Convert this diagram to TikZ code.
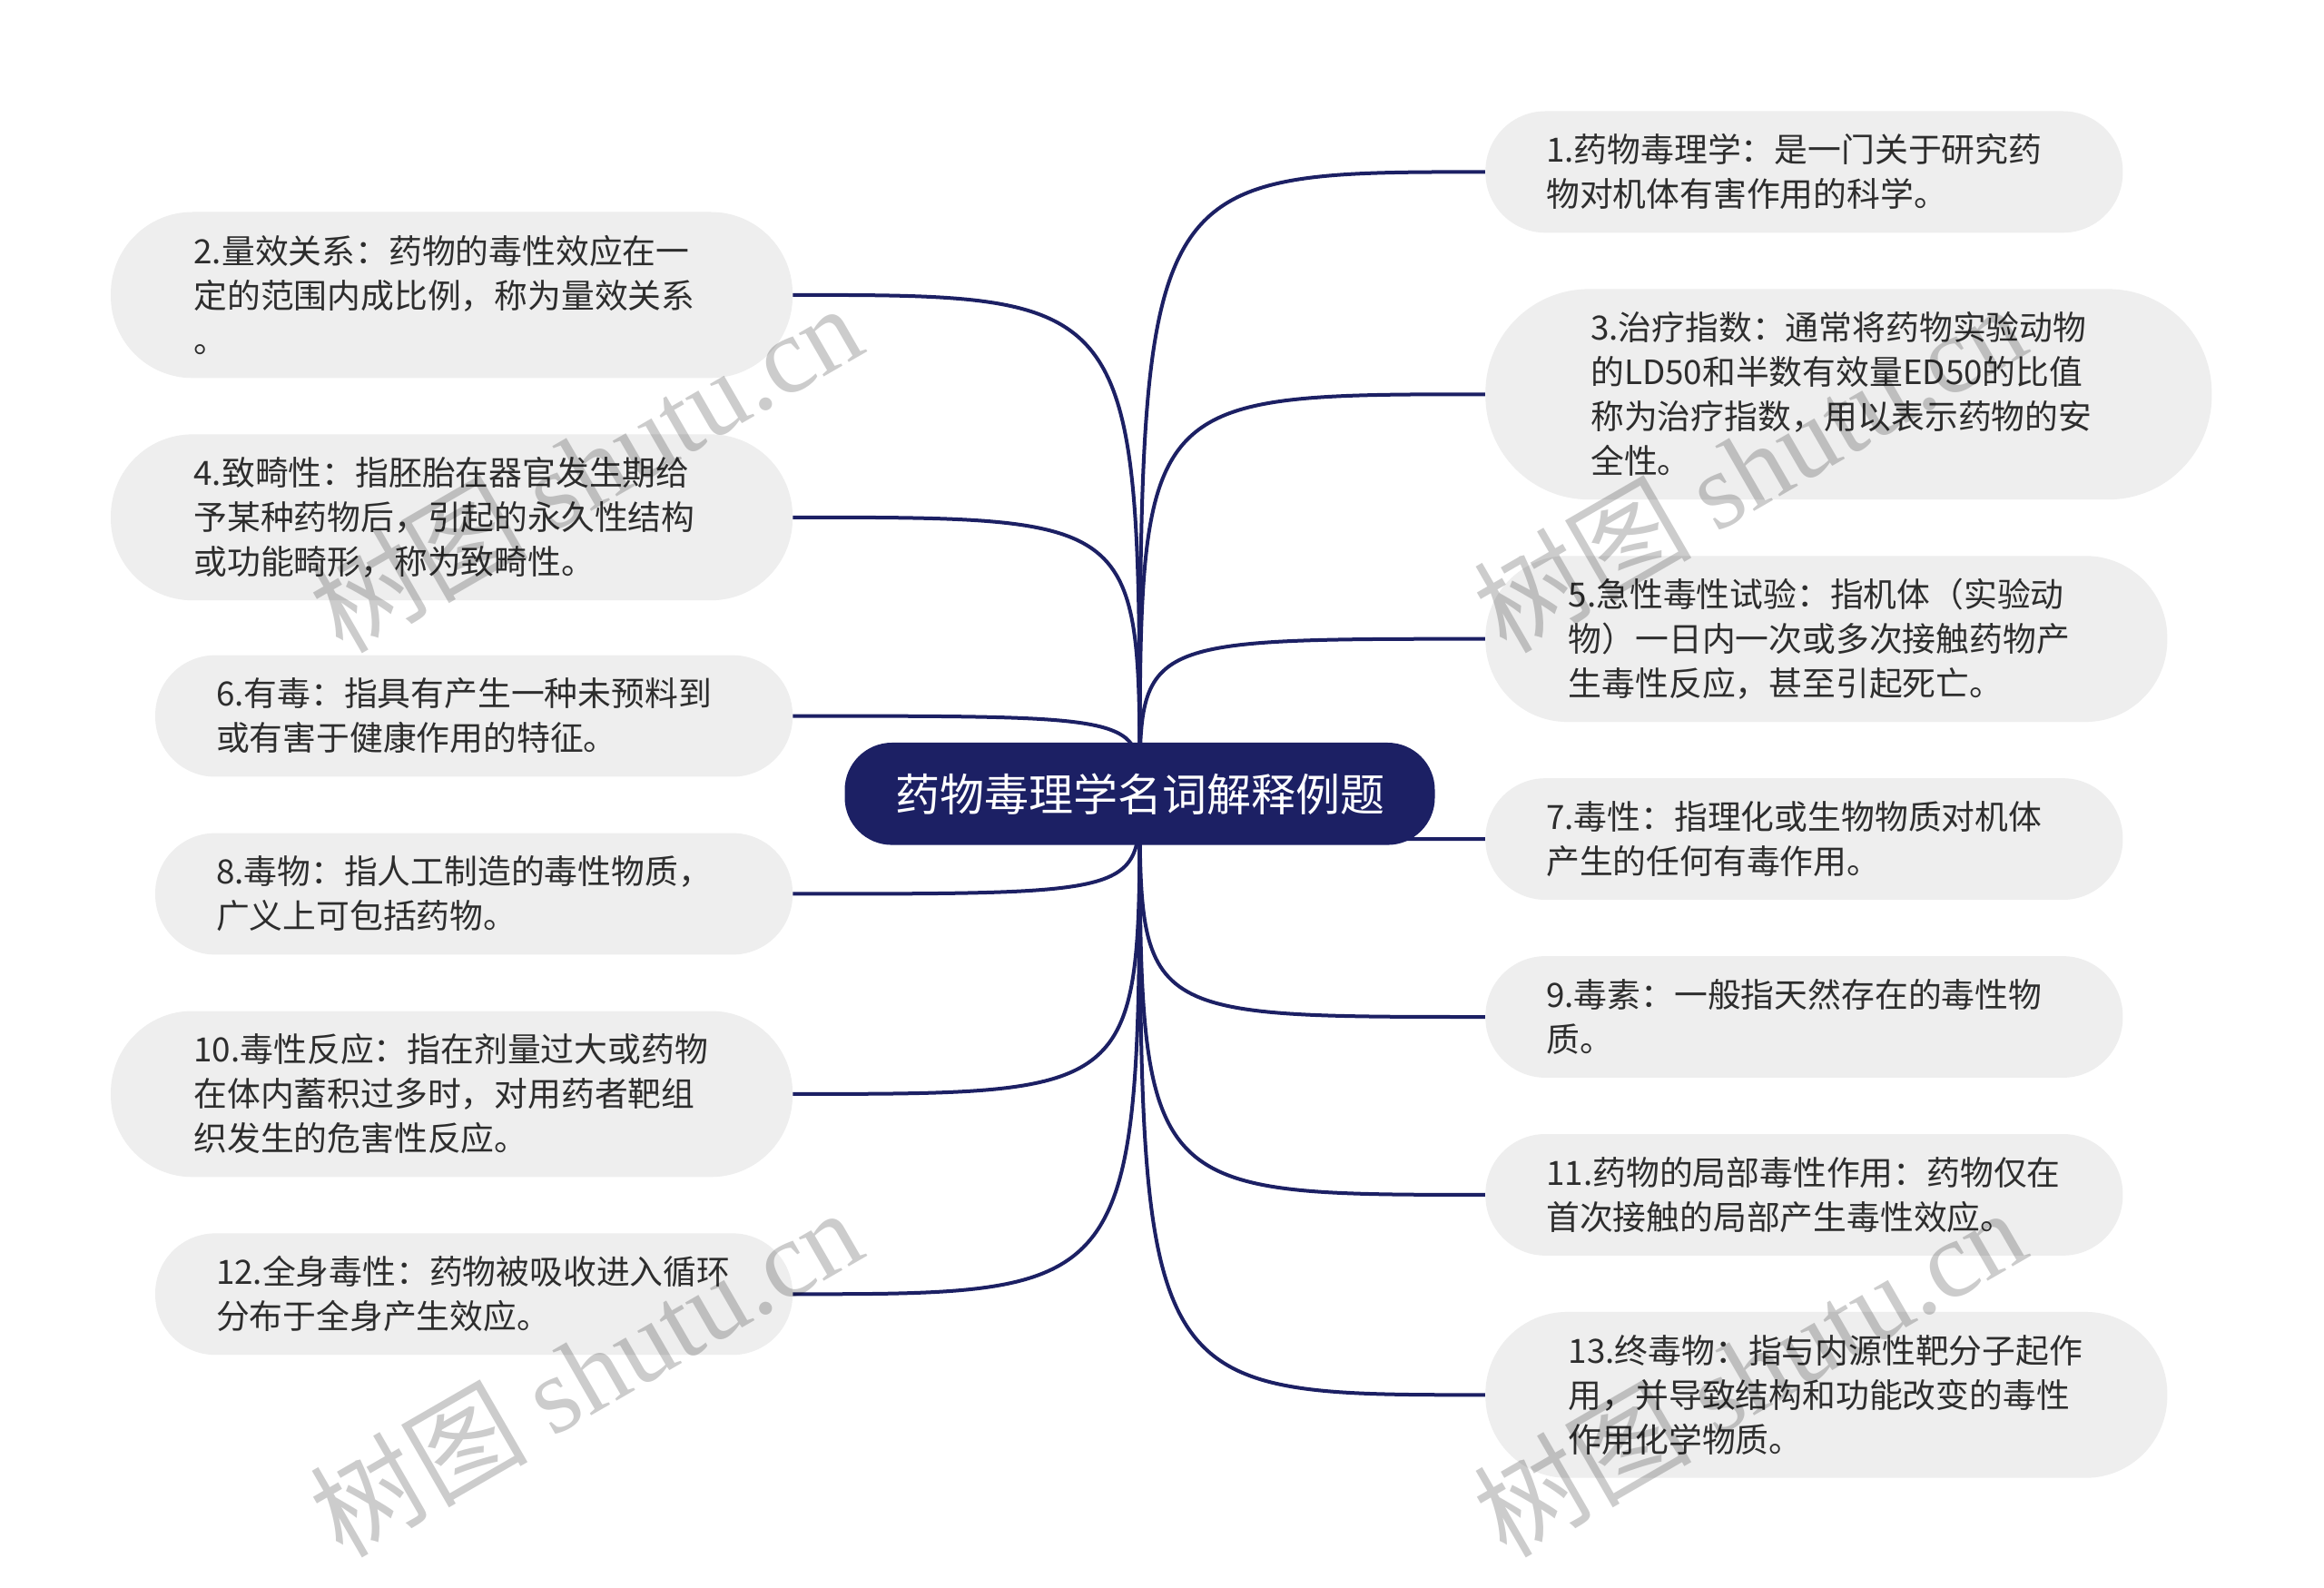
\documentclass[tikz,border=0pt]{standalone}
\usepackage{fontspec}
\setmainfont{Noto Sans CJK SC}
\newfontfamily\wmlatin{Liberation Serif}
\definecolor{navy}{RGB}{28,32,100}
\definecolor{boxgray}{RGB}{238,238,238}
\definecolor{txt}{RGB}{45,45,45}
\begin{document}
\begin{tikzpicture}[x=0.8163pt,y=-0.8163pt,
  conn/.style={draw=navy,line width=2pt},
  leaf/.style={fill=boxgray,text=txt,align=left,text width=284pt,inner ysep=0pt,
    font=\fontsize{18.4pt}{24.5pt}\selectfont},
  w430/.style={inner xsep=33.5pt},
  w460/.style={inner xsep=45.75pt},
  w490/.style={inner xsep=58pt},
  h2/.style={minimum height=66.9pt,rounded corners=33pt},
  h3/.style={minimum height=91.4pt,rounded corners=45pt},
  h4/.style={minimum height=115.9pt,rounded corners=57pt},
  rootbox/.style={fill=navy,text=white,minimum width=325pt,minimum height=56.3pt,
    rounded corners=26pt,inner sep=0pt,font=\fontsize{24.5pt}{28pt}\selectfont},
  wm/.style={rotate=30,text=black,text opacity=0.2,inner sep=0pt,
    font=\fontsize{60pt}{60pt}\selectfont}]
\path[fill=white] (0,0) rectangle (1568,1071);
\coordinate (rc) at (769,535.5);
% leaves right
\node[leaf,w430,h2,anchor=west] (n1) at (1002,116) {1.药物毒理学：是一门关于研究药\\物对机体有害作用的科学。};
\node[leaf,w490,h4,anchor=west] (n3) at (1002,266) {3.治疗指数：通常将药物实验动物\\的LD50和半数有效量ED50的比值\\称为治疗指数，用以表示药物的安\\全性。};
\node[leaf,w460,h3,anchor=west] (n5) at (1002,431) {5.急性毒性试验：指机体（实验动\\物）一日内一次或多次接触药物产\\生毒性反应，甚至引起死亡。};
\node[leaf,w430,h2,anchor=west] (n7) at (1002,566) {7.毒性：指理化或生物物质对机体\\产生的任何有毒作用。};
\node[leaf,w430,h2,anchor=west] (n9) at (1002,686) {9.毒素：一般指天然存在的毒性物\\质。};
\node[leaf,w430,h2,anchor=west] (n11) at (1002,806) {11.药物的局部毒性作用：药物仅在\\首次接触的局部产生毒性效应。};
\node[leaf,w460,h3,anchor=west] (n13) at (1002,941) {13.终毒物：指与内源性靶分子起作\\用，并导致结构和功能改变的毒性\\作用化学物质。};
% leaves left
\node[leaf,w460,h3,anchor=east] (n2) at (535,199) {2.量效关系：药物的毒性效应在一\\定的范围内成比例，称为量效关系\\。};
\node[leaf,w460,h3,anchor=east] (n4) at (535,349) {4.致畸性：指胚胎在器官发生期给\\予某种药物后，引起的永久性结构\\或功能畸形，称为致畸性。};
\node[leaf,w430,h2,anchor=east] (n6) at (535,483) {6.有毒：指具有产生一种未预料到\\或有害于健康作用的特征。};
\node[leaf,w430,h2,anchor=east] (n8) at (535,603) {8.毒物：指人工制造的毒性物质，\\广义上可包括药物。};
\node[leaf,w460,h3,anchor=east] (n10) at (535,738) {10.毒性反应：指在剂量过大或药物\\在体内蓄积过多时，对用药者靶组\\织发生的危害性反应。};
\node[leaf,w430,h2,anchor=east] (n12) at (535,873) {12.全身毒性：药物被吸收进入循环\\分布于全身产生效应。};
% connectors
\foreach \n in {n1,n3,n5,n7,n9,n11,n13}
  \draw[conn] (rc) .. controls (rc |- \n.west) .. (\n.west);
\foreach \n in {n2,n4,n6,n8,n10,n12}
  \draw[conn] (rc) .. controls (rc |- \n.east) .. (\n.east);
% root
\node[rootbox] (root) at (rc) {药物毒理学名词解释例题};
% watermarks
\node[wm] (wm1) at (395,315) {树图 {\wmlatin shutu.cn}};
\node[wm] (wm2) at (1180,315) {树图 {\wmlatin shutu.cn}};
\node[wm] (wm3) at (395,925) {树图 {\wmlatin shutu.cn}};
\node[wm] (wm4) at (1180,925) {树图 {\wmlatin shutu.cn}};
\end{tikzpicture}
\end{document}
